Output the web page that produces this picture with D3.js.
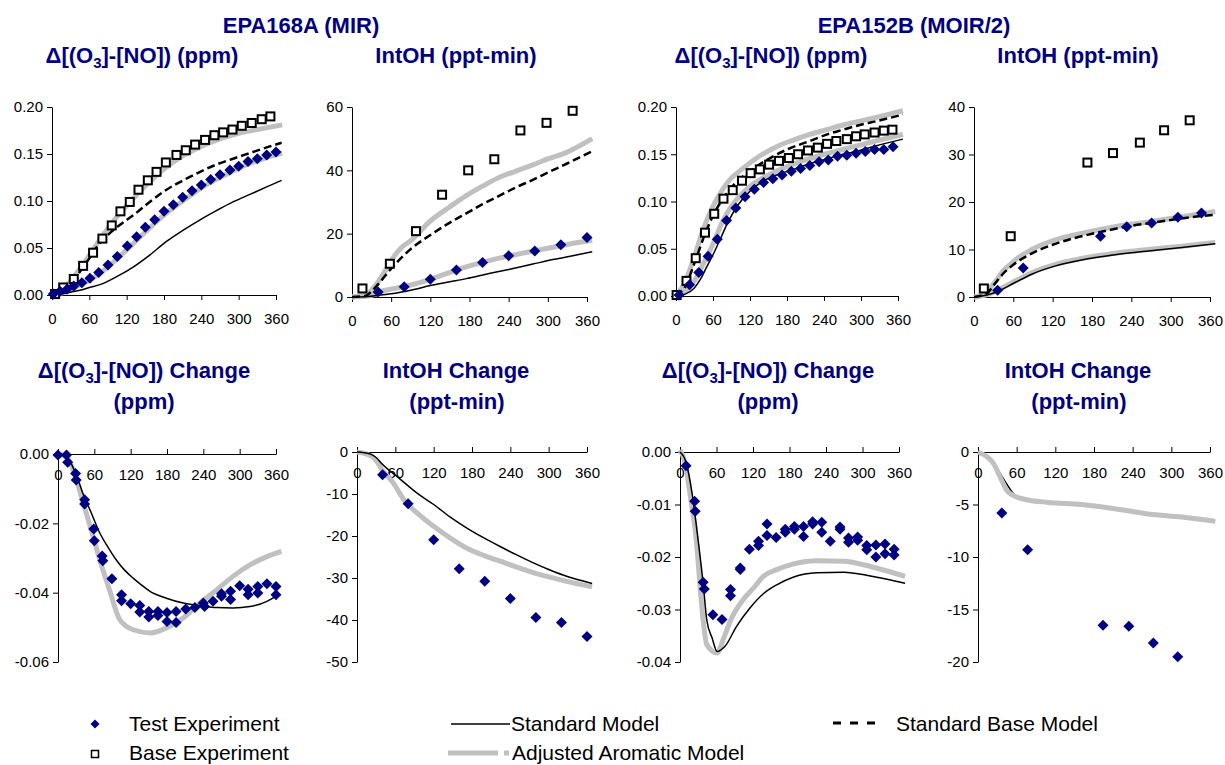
<!DOCTYPE html>
<html>
<head>
<meta charset="utf-8">
<script src="https://cdn.jsdelivr.net/npm/d3@7"></script>
<style>
  body { margin: 0; background: #ffffff; }
  svg text { font-family: "Liberation Sans", Arial, Helvetica, sans-serif; }
</style>
</head>
<body>
<svg id="chart" width="1225" height="765"></svg>
<script>
// ---------------------------------------------------------------
// Data: time in minutes, values as [t, value]
// ---------------------------------------------------------------
const timeTicks = [0, 60, 120, 180, 240, 300, 360];

const groupTitles = ["EPA168A (MIR)", "EPA152B (MOIR/2)"];
const legendLabels = ["Test Experiment", "Base Experiment", "Standard Model",
                      "Adjusted Aromatic Model", "Standard Base Model"];

// EPA168A  d([O3]-[NO]) (ppm)
const a168_dO3NO_test = [[2,0.001],[13,0.004],[24,0.006],[35,0.0096],[48,0.013],[61,0.0177],[75,0.024],[90,0.032],[105,0.041],[121,0.052],[136,0.062],[150,0.072],[165,0.080],[180,0.089],[195,0.096],[210,0.104],[225,0.111],[240,0.117],[255,0.123],[270,0.128],[286,0.133],[300,0.137],[315,0.142],[330,0.145],[345,0.149],[360,0.152]];
const a168_dO3NO_base = [[5,0.001],[18,0.008],[35,0.017],[50,0.031],[66,0.045],[81,0.060],[96,0.074],[110,0.089],[125,0.099],[139,0.112],[154,0.122],[168,0.131],[183,0.141],[200,0.149],[215,0.154],[230,0.160],[246,0.165],[261,0.170],[275,0.173],[290,0.176],[305,0.180],[321,0.183],[337,0.187],[351,0.190]];
const a168_dO3NO_std = [[0,0],[15,0.001],[30,0.003],[45,0.005],[60,0.008],[77,0.011],[104,0.0195],[131,0.030],[157,0.0425],[184,0.057],[211,0.069],[238,0.080],[265,0.090],[291,0.099],[318,0.107],[345,0.115],[369,0.122]];
const a168_dO3NO_stdBase = [[0,0],[15,0.003],[30,0.012],[45,0.025],[60,0.039],[72,0.051],[90,0.064],[110,0.075],[131,0.085],[157,0.099],[184,0.112],[211,0.122],[238,0.131],[265,0.139],[291,0.145],[318,0.151],[345,0.157],[369,0.162]];
const a168_dO3NO_adjBase = [[0,0],[15,0.005],[30,0.015],[45,0.028],[60,0.042],[75,0.057],[90,0.071],[105,0.084],[120,0.095],[150,0.116],[180,0.134],[210,0.148],[240,0.158],[270,0.166],[300,0.172],[330,0.176],[370,0.181]];
const a168_dO3NO_adjTest = [[0,0],[15,0.002],[30,0.006],[45,0.011],[60,0.016],[75,0.022],[90,0.030],[120,0.048],[150,0.067],[180,0.085],[210,0.100],[240,0.114],[270,0.125],[300,0.135],[330,0.143],[370,0.151]];

// EPA168A  IntOH (ppt-min)
const a168_intOH_test = [[40,1.6],[80,3.2],[120,5.6],[160,8.5],[200,10.9],[240,13.0],[280,14.5],[320,16.5],[360,18.8]];
const a168_intOH_base = [[16,2.7],[58,10.5],[98,20.8],[138,32.3],[178,40.0],[218,43.5],[258,52.6],[298,55.0],[338,58.8]];
const a168_intOH_std = [[0,0],[20,0.1],[40,0.5],[60,1.0],[93,2.3],[120,3.6],[150,4.8],[175,5.8],[210,7.4],[240,8.7],[277,10.4],[310,11.9],[340,13.1],[368,14.3]];
const a168_intOH_stdBase = [[0,0],[20,0.3],[30,1.8],[45,5.2],[58,8.5],[88,14.8],[124,20.1],[150,23.5],[175,26.4],[200,29.3],[226,32.0],[250,34.5],[277,37.0],[300,39.3],[328,42.0],[368,46.0]];
const a168_intOH_adjBase = [[0,0],[20,0.6],[30,2.2],[45,6.3],[60,11.5],[75,15.5],[90,17.8],[120,24.0],[150,28.5],[175,32.0],[200,35.0],[226,37.8],[250,39.7],[277,41.7],[300,43.6],[328,45.6],[368,50.0]];
const a168_intOH_adjTest = [[0,0],[20,0.2],[30,0.5],[45,1.8],[60,2.5],[90,3.8],[120,5.6],[150,7.8],[180,9.8],[210,11.5],[240,12.9],[270,14.2],[300,15.4],[330,16.6],[368,17.9]];

// EPA152B  d([O3]-[NO]) (ppm)
const b152_dO3NO_test = [[5,0.001],[22,0.012],[37,0.025],[52,0.042],[67,0.060],[82,0.080],[97,0.093],[112,0.105],[127,0.113],[142,0.120],[157,0.124],[172,0.128],[187,0.132],[202,0.135],[217,0.138],[232,0.142],[247,0.144],[262,0.148],[277,0.149],[292,0.151],[307,0.153],[322,0.155],[337,0.155],[352,0.158]];
const b152_dO3NO_base = [[1,0.001],[17,0.016],[32,0.040],[47,0.067],[62,0.087],[77,0.103],[92,0.112],[107,0.122],[121,0.130],[136,0.134],[151,0.139],[167,0.143],[183,0.146],[198,0.150],[214,0.154],[230,0.157],[245,0.161],[260,0.164],[277,0.166],[292,0.169],[306,0.171],[322,0.173],[337,0.175],[351,0.176]];
const b152_dO3NO_std = [[0,0],[15,0.002],[29,0.008],[40,0.018],[50,0.031],[61,0.045],[71,0.059],[82,0.075],[99,0.095],[120,0.111],[140,0.121],[163,0.128],[190,0.134],[217,0.140],[244,0.145],[271,0.150],[298,0.154],[325,0.159],[368,0.166]];
const b152_dO3NO_stdBase = [[0,0],[15,0.010],[30,0.035],[45,0.062],[60,0.085],[75,0.102],[90,0.115],[120,0.132],[150,0.145],[180,0.155],[217,0.164],[245,0.171],[271,0.176],[298,0.181],[325,0.185],[368,0.192]];
const b152_dO3NO_adjBase = [[0,0],[15,0.015],[30,0.042],[45,0.072],[60,0.095],[75,0.112],[90,0.125],[99,0.130],[131,0.146],[163,0.158],[190,0.165],[217,0.171],[244,0.176],[271,0.181],[298,0.185],[325,0.189],[368,0.196]];
const b152_dO3NO_adjTest = [[0,0],[20,0.008],[30,0.016],[45,0.035],[60,0.055],[75,0.078],[90,0.095],[105,0.107],[120,0.116],[150,0.128],[180,0.137],[210,0.144],[240,0.150],[270,0.155],[300,0.160],[330,0.165],[368,0.171]];

// EPA152B  IntOH (ppt-min)
const b152_intOH_test = [[36,1.4],[75,6.1],[193,12.8],[233,14.8],[271,15.6],[311,16.8],[347,17.7]];
const b152_intOH_base = [[15,1.8],[56,12.8],[173,28.3],[212,30.3],[253,32.5],[290,35.1],[329,37.2]];
const b152_intOH_std = [[0,0],[20,0.4],[37,1.2],[62,3.0],[88,4.8],[123,6.5],[164,7.8],[215,8.9],[266,9.7],[317,10.4],[368,11.2]];
const b152_intOH_stdBase = [[0,0],[20,0.8],[30,2.5],[45,5.0],[60,6.8],[90,9.3],[120,11.0],[150,12.3],[180,13.3],[210,14.2],[240,15.0],[270,15.6],[300,16.2],[330,16.8],[368,17.3]];
const b152_intOH_adjBase = [[0,0],[15,0.5],[25,2.0],[35,3.7],[45,5.6],[55,6.8],[62,7.7],[88,10.0],[123,12.0],[164,13.4],[215,14.8],[266,15.8],[317,16.9],[368,18.0]];
const b152_intOH_adjTest = [[0,0],[20,0.5],[37,1.5],[62,3.3],[88,5.1],[123,6.8],[164,8.1],[215,9.2],[266,10.0],[317,10.7],[368,11.5]];

// EPA168A  change in d([O3]-[NO]) (ppm)
const a168_dChg_test = [[0,-0.0003],[14,-0.0003],[16,-0.0024],[29,-0.0056],[30,-0.0075],[44,-0.0132],[44,-0.0144],[59,-0.0216],[60,-0.025],[73,-0.0294],[74,-0.0308],[89,-0.036],[105,-0.0406],[105,-0.0423],[120,-0.0432],[135,-0.0437],[135,-0.0456],[150,-0.0454],[150,-0.047],[165,-0.0454],[165,-0.0466],[180,-0.0457],[180,-0.0483],[195,-0.0454],[195,-0.0486],[211,-0.0447],[226,-0.0443],[240,-0.043],[242,-0.044],[256,-0.0425],[270,-0.0403],[270,-0.041],[285,-0.0396],[285,-0.042],[300,-0.038],[314,-0.039],[314,-0.0406],[330,-0.0382],[330,-0.0401],[345,-0.0374],[360,-0.0382],[360,-0.0406]];
const a168_dChg_std = [[0,0],[15,-0.001],[30,-0.006],[41,-0.0113],[55,-0.017],[69,-0.0228],[83,-0.027],[96,-0.0305],[110,-0.0335],[124,-0.0358],[138,-0.0378],[152,-0.0396],[179,-0.0416],[207,-0.043],[234,-0.0437],[262,-0.0443],[289,-0.0444],[317,-0.044],[345,-0.0425],[360,-0.041]];
const a168_dChg_adj = [[0,0],[15,-0.001],[25,-0.0046],[41,-0.0137],[58,-0.0238],[69,-0.0305],[85,-0.0392],[102,-0.0478],[124,-0.0507],[152,-0.0516],[179,-0.0502],[207,-0.0473],[234,-0.043],[262,-0.0392],[289,-0.0353],[317,-0.032],[345,-0.0296],[369,-0.0281]];

// EPA168A  change in IntOH (ppt-min)
const a168_iChg_test = [[40,-5.4],[80,-12.3],[120,-20.9],[160,-27.8],[200,-30.8],[240,-34.9],[280,-39.4],[320,-40.6],[360,-43.9]];
const a168_iChg_std = [[0,0],[20,-0.4],[30,-1.3],[39,-2.8],[68,-6.5],[94,-9.8],[120,-12.5],[146,-15.5],[172,-18.1],[198,-20.4],[224,-22.5],[250,-24.5],[276,-26.4],[302,-28.1],[328,-29.6],[368,-31.3]];
const a168_iChg_adj = [[0,0],[20,-0.8],[30,-2.0],[39,-4.2],[57,-7.4],[73,-11.3],[94,-14.5],[120,-17.7],[146,-20.5],[172,-22.9],[198,-24.6],[224,-26.0],[250,-27.4],[276,-28.7],[302,-29.8],[328,-30.8],[368,-32.1]];

// EPA152B  change in d([O3]-[NO]) (ppm)
const b152_dChg_test = [[10,-0.0026],[24,-0.0094],[25,-0.0113],[38,-0.0248],[40,-0.0261],[54,-0.031],[69,-0.0319],[83,-0.0262],[83,-0.0274],[99,-0.0221],[99,-0.0224],[114,-0.0185],[129,-0.017],[129,-0.0178],[143,-0.0137],[143,-0.0159],[158,-0.0163],[173,-0.0147],[173,-0.0153],[188,-0.0142],[188,-0.0147],[203,-0.0142],[203,-0.0161],[218,-0.0133],[218,-0.0137],[233,-0.0134],[233,-0.0153],[247,-0.017],[263,-0.0143],[263,-0.0147],[277,-0.0164],[277,-0.0172],[292,-0.0162],[292,-0.0168],[307,-0.0178],[307,-0.0186],[322,-0.0177],[322,-0.02],[337,-0.0175],[337,-0.0194],[352,-0.0185],[352,-0.0196]];
const b152_dChg_std = [[0,0],[10,-0.002],[20,-0.008],[30,-0.017],[38,-0.025],[44,-0.032],[53,-0.0355],[61,-0.038],[74,-0.037],[93,-0.0332],[115,-0.0297],[137,-0.027],[159,-0.0253],[187,-0.0238],[225,-0.023],[269,-0.0229],[313,-0.0236],[370,-0.025]];
const b152_dChg_adj = [[0,0.0004],[8,-0.002],[19,-0.010],[25,-0.0148],[38,-0.032],[44,-0.0367],[61,-0.0383],[71,-0.0357],[85,-0.0316],[104,-0.0281],[121,-0.0259],[137,-0.0237],[159,-0.0224],[187,-0.0213],[225,-0.0207],[269,-0.0208],[313,-0.0218],[370,-0.0237]];

// EPA152B  change in IntOH (ppt-min)
const b152_iChg_test = [[37,-5.8],[77,-9.3],[194,-16.5],[234,-16.6],[272,-18.2],[310,-19.5]];
const b152_iChg_std = [[0,0],[15,-0.4],[23,-0.9],[36,-2.2],[44,-3.0],[57,-4.1],[72,-4.5],[109,-4.8],[160,-5.0],[212,-5.4],[264,-5.9],[316,-6.2],[368,-6.6]];
const b152_iChg_adj = [[0,0],[15,-0.5],[23,-1.0],[36,-2.6],[44,-3.6],[57,-4.2],[72,-4.5],[109,-4.8],[160,-5.0],[212,-5.4],[264,-5.9],[316,-6.2],[368,-6.6]];

// ---------------------------------------------------------------
// Styles
// ---------------------------------------------------------------
const NAVY = "#000080";
const GRAY = "#c0c0c0";
const TITLE_FONT = 22;
const TICK_FONT = 15;

const svg = d3.select("#chart");

const fmt2 = d => (Math.abs(d) < 1e-12 ? "0.00" : d.toFixed(2));
const fmtInt = d => String(Math.round(d));

// Panel layout (pixel frame of each plot, axis domain and tick step)
const panels = [
  { x0: 52,  x1: 276,  y0: 295, y1: 107, dom: [0, 0.2],   step: 0.05, fmt: fmt2, top: true,
    series: { adj: [a168_dO3NO_adjBase, a168_dO3NO_adjTest], std: [a168_dO3NO_std], stdBase: [a168_dO3NO_stdBase], base: a168_dO3NO_base, test: a168_dO3NO_test } },
  { x0: 352, x1: 587,  y0: 297, y1: 107, dom: [0, 60],    step: 20,   fmt: fmtInt, top: true,
    series: { adj: [a168_intOH_adjBase, a168_intOH_adjTest], std: [a168_intOH_std], stdBase: [a168_intOH_stdBase], base: a168_intOH_base, test: a168_intOH_test } },
  { x0: 676, x1: 898,  y0: 296, y1: 107, dom: [0, 0.2],   step: 0.05, fmt: fmt2, top: true,
    series: { adj: [b152_dO3NO_adjBase, b152_dO3NO_adjTest], std: [b152_dO3NO_std], stdBase: [b152_dO3NO_stdBase], base: b152_dO3NO_base, test: b152_dO3NO_test } },
  { x0: 974, x1: 1210, y0: 297, y1: 107, dom: [0, 40],    step: 10,   fmt: fmtInt, top: true,
    series: { adj: [b152_intOH_adjBase, b152_intOH_adjTest], std: [b152_intOH_std], stdBase: [b152_intOH_stdBase], base: b152_intOH_base, test: b152_intOH_test } },
  { x0: 58,  x1: 276,  y0: 662, y1: 454, dom: [-0.06, 0], step: 0.02, fmt: fmt2, top: false,
    series: { adj: [a168_dChg_adj], std: [a168_dChg_std], stdBase: [], base: [], test: a168_dChg_test } },
  { x0: 357, x1: 587,  y0: 662, y1: 452, dom: [-50, 0],   step: 10,   fmt: fmtInt, top: false,
    series: { adj: [a168_iChg_adj], std: [a168_iChg_std], stdBase: [], base: [], test: a168_iChg_test } },
  { x0: 680, x1: 899,  y0: 662, y1: 452, dom: [-0.04, 0], step: 0.01, fmt: fmt2, top: false,
    series: { adj: [b152_dChg_adj], std: [b152_dChg_std], stdBase: [], base: [], test: b152_dChg_test } },
  { x0: 978, x1: 1210, y0: 662, y1: 452, dom: [-20, 0],   step: 5,    fmt: fmtInt, top: false, stdUnder: true,
    series: { adj: [b152_iChg_adj], std: [b152_iChg_std], stdBase: [], base: [], test: b152_iChg_test } }
];

function diamondPath(r) {
  return `M0,${-r}L${r},0L0,${r}L${-r},0Z`;
}

function drawPanel(p) {
  const g = svg.append("g");
  const x = d3.scaleLinear().domain([0, 360]).range([p.x0, p.x1]);
  const y = d3.scaleLinear().domain(p.dom).range([p.y0, p.y1]);
  const yTicks = d3.range(p.dom[0], p.dom[1] + p.step / 2, p.step).map(v => +v.toFixed(6));

  // y axis
  const ya = g.append("g")
    .attr("transform", `translate(${p.x0},0)`)
    .call(d3.axisLeft(y).tickValues(yTicks).tickFormat(p.fmt)
      .tickSizeInner(5).tickSizeOuter(0).tickPadding(4));
  // time axis crossing at value 0
  const xa = g.append("g")
    .attr("transform", `translate(0,${y(0)})`)
    .call(d3.axisBottom(x).tickValues(timeTicks).tickFormat(fmtInt)
      .tickSizeInner(p.top ? 5 : -5).tickSizeOuter(0).tickPadding(p.top ? 13 : 15));
  [ya, xa].forEach(a => {
    a.selectAll("text").attr("font-size", TICK_FONT).attr("fill", "#000")
      .attr("font-family", '"Liberation Sans", Arial, sans-serif');
    a.selectAll("path, line").attr("stroke", "#000").attr("stroke-width", 1);
  });

  const line = d3.line().x(d => x(d[0])).y(d => y(d[1])).curve(d3.curveMonotoneX);

  const drawStd = () => p.series.std.forEach(s => g.append("path").datum(s).attr("d", line)
    .attr("fill", "none").attr("stroke", "#000").attr("stroke-width", 1.5));
  const drawAdj = () => p.series.adj.forEach(s => g.append("path").datum(s).attr("d", line)
    .attr("fill", "none").attr("stroke", GRAY).attr("stroke-width", 5).attr("stroke-linejoin", "round"));

  if (p.stdUnder) { drawStd(); drawAdj(); } else { drawAdj(); drawStd(); }

  p.series.stdBase.forEach(s => g.append("path").datum(s).attr("d", line)
    .attr("fill", "none").attr("stroke", "#000").attr("stroke-width", 2.5).attr("stroke-dasharray", "8,4"));

  g.selectAll(".base").data(p.series.base).enter().append("rect")
    .attr("x", d => x(d[0]) - 4).attr("y", d => y(d[1]) - 4)
    .attr("width", 8).attr("height", 8)
    .attr("fill", "#fff").attr("stroke", "#000").attr("stroke-width", 2);
  g.selectAll(".test").data(p.series.test).enter().append("path")
    .attr("transform", d => `translate(${x(d[0])},${y(d[1])})`)
    .attr("d", diamondPath(5.5)).attr("fill", NAVY);
}

panels.forEach(drawPanel);

// ---------------------------------------------------------------
// Titles
// ---------------------------------------------------------------
function title(txt, cx, by) {
  svg.append("text").attr("x", cx).attr("y", by).attr("text-anchor", "middle")
    .attr("font-size", TITLE_FONT).attr("font-weight", "bold").attr("fill", NAVY).text(txt);
}
function deltaTitle(cx, by, tail) {
  const t = svg.append("text").attr("x", cx).attr("y", by).attr("text-anchor", "middle")
    .attr("font-size", TITLE_FONT).attr("font-weight", "bold").attr("fill", NAVY);
  t.append("tspan").text("\u0394[(O");
  t.append("tspan").attr("font-size", 15).attr("dy", 5).text("3");
  t.append("tspan").attr("dy", -5).text("]-[NO])" + tail);
}

title(groupTitles[0], 301, 33);
title(groupTitles[1], 914, 33);

deltaTitle(142, 63, " (ppm)");
title("IntOH (ppt-min)", 456, 63);
deltaTitle(771, 63, " (ppm)");
title("IntOH (ppt-min)", 1078, 63);

deltaTitle(144, 378, " Change");
title("(ppm)", 144, 409);
title("IntOH Change", 456, 378);
title("(ppt-min)", 457, 409);
deltaTitle(768, 378, " Change");
title("(ppm)", 768, 409);
title("IntOH Change", 1078, 378);
title("(ppt-min)", 1079, 409);

// ---------------------------------------------------------------
// Legend
// ---------------------------------------------------------------
const lg = svg.append("g");
function legendText(txt, x, by) {
  lg.append("text").attr("x", x).attr("y", by).attr("font-size", 21).attr("fill", "#000").text(txt);
}
lg.append("path").attr("transform", "translate(95,724)").attr("d", diamondPath(4.5)).attr("fill", NAVY);
legendText(legendLabels[0], 129, 731);
lg.append("rect").attr("x", 91.5).attr("y", 750.5).attr("width", 7).attr("height", 7)
  .attr("fill", "#fff").attr("stroke", "#000").attr("stroke-width", 1.5);
legendText(legendLabels[1], 129, 760);

lg.append("line").attr("x1", 451).attr("x2", 510).attr("y1", 724).attr("y2", 724)
  .attr("stroke", "#000").attr("stroke-width", 1.5);
legendText(legendLabels[2], 511, 731);
lg.append("line").attr("x1", 448).attr("x2", 498).attr("y1", 753).attr("y2", 753)
  .attr("stroke", GRAY).attr("stroke-width", 5);
lg.append("line").attr("x1", 504).attr("x2", 509).attr("y1", 753).attr("y2", 753)
  .attr("stroke", GRAY).attr("stroke-width", 5);
legendText(legendLabels[3], 512, 760);

lg.append("line").attr("x1", 833).attr("x2", 882).attr("y1", 723).attr("y2", 723)
  .attr("stroke", "#000").attr("stroke-width", 3).attr("stroke-dasharray", "8,9");
legendText(legendLabels[4], 896, 731);
</script>
</body>
</html>
